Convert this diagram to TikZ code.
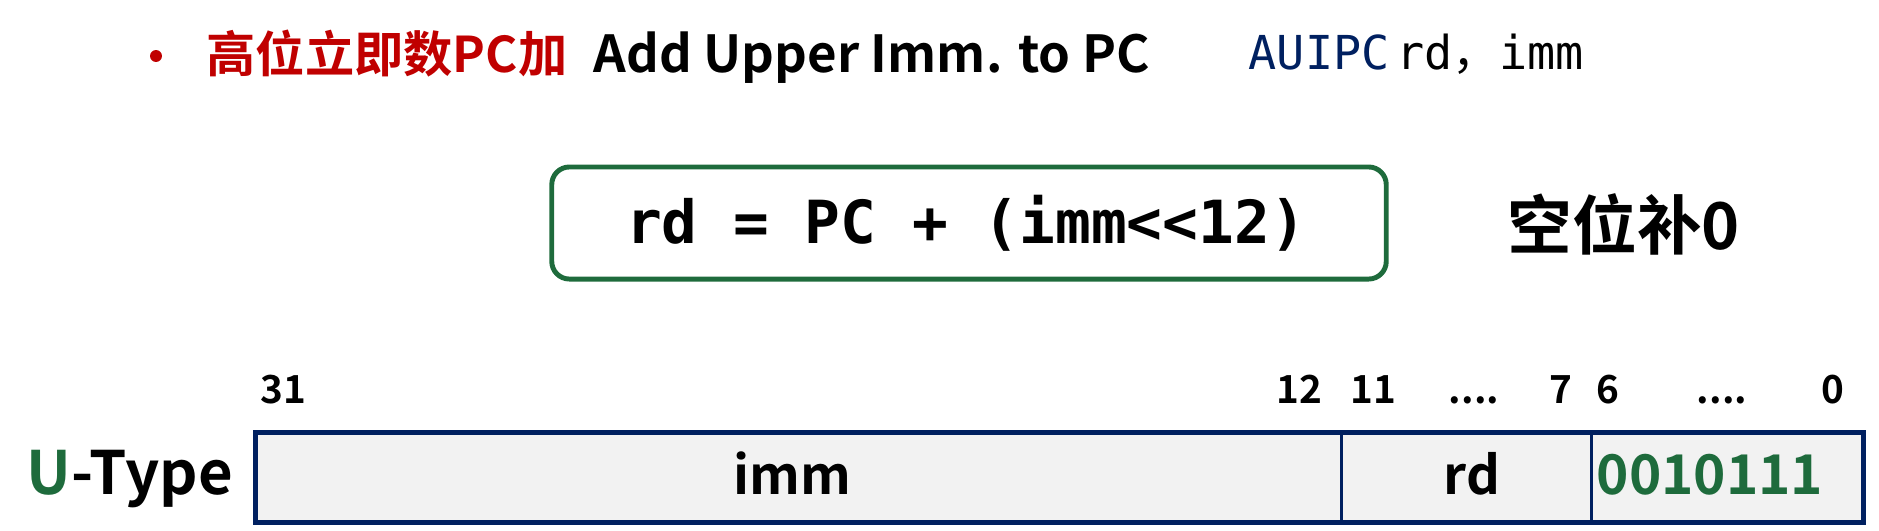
\documentclass[tikz,border=0pt]{standalone}
\usepackage{fontspec}
\newfontfamily\cjk{Noto Sans CJK SC}[BoldFont={Noto Sans CJK SC Bold}]
\setmonofont{DejaVu Sans Mono}
\definecolor{myred}{RGB}{192,0,0}
\definecolor{mygreen}{RGB}{30,107,60}
\definecolor{navy}{RGB}{0,32,96}
\definecolor{fieldgray}{RGB}{242,242,242}
\tikzset{
  txt/.style={inner sep=0pt, anchor=base west},
  bitnum/.style={inner sep=0pt, anchor=base, font=\cjk\bfseries\fontsize{11}{13}\selectfont},
  field/.style={draw=navy, line width=0.8pt, fill=fieldgray, minimum height=0.88cm, inner sep=0pt, anchor=north west},
  fieldtxt/.style={font=\cjk\bfseries\fontsize{15}{18}\selectfont}
}
\begin{document}
\begin{tikzpicture}[x=0.01cm,y=-0.01cm]
\useasboundingbox (0,0) rectangle (1879,530);
% heading
\node[circle, fill=myred, inner sep=0pt, minimum size=3.4pt] (bullet) at (156,56) {};
\node[txt, text=myred, font=\cjk\bfseries\fontsize{14}{16}\selectfont] (zh) at (206,72) {高位立即数PC加};
\node[txt, font=\cjk\bfseries\fontsize{14.5}{17}\selectfont] (en) at (593,72) {Add Upper Imm. to PC};
\node[txt, font=\ttfamily\fontsize{13.3}{15}\selectfont] (asm) at (1248,69) {\textcolor{navy}{AUIPC}\hspace{2pt}rd{\cjk ，}imm};
% formula box
\node[draw=mygreen, line width=1.4pt, rounded corners=5pt, minimum width=8.34cm, minimum height=1.12cm, inner sep=0pt] (box) at (969,223) {};
\node[txt, anchor=base, font=\ttfamily\bfseries\fontsize{16.9}{20}\selectfont] (formula) at (966,243) {rd = PC + (imm<<12)};
\node[txt, font=\cjk\bfseries\fontsize{18.4}{22}\selectfont] (zero) at (1507,249) {空位补0};
% bit numbers
\node[bitnum] (b31) at (283,403) {31};
\node[bitnum] (b12) at (1299,403) {12};
\node[bitnum] (b11) at (1373,403) {11};
\node[bitnum] (d1) at (1474,403) {....};
\node[bitnum] (b7) at (1561,403) {7};
\node[bitnum] (b6) at (1608,403) {6};
\node[bitnum] (d2) at (1722,403) {....};
\node[bitnum] (b0) at (1833,403) {0};
% fields
\node[field, minimum width=10.85cm] (imm) at (255,432) {};
\node[field, minimum width=2.50cm] (rd) at (1340,432) {};
\node[field, minimum width=2.71cm] (op) at (1590,432) {};
\draw[navy, line width=1.1pt] (imm.north west) rectangle (op.south east);
\node[txt, anchor=base, fieldtxt] (immt) at (792,494) {imm};
\node[txt, anchor=base, fieldtxt] (rdt) at (1472,494) {rd};
\node[txt, anchor=base, fieldtxt, text=mygreen, font=\cjk\bfseries\fontsize{15.6}{18}\selectfont] (opt) at (1710,494) {0010111};
\node[txt, font=\cjk\bfseries\fontsize{17}{20}\selectfont] (utype) at (26,494) {\textcolor{mygreen}{U}-Type};
\end{tikzpicture}
\end{document}
